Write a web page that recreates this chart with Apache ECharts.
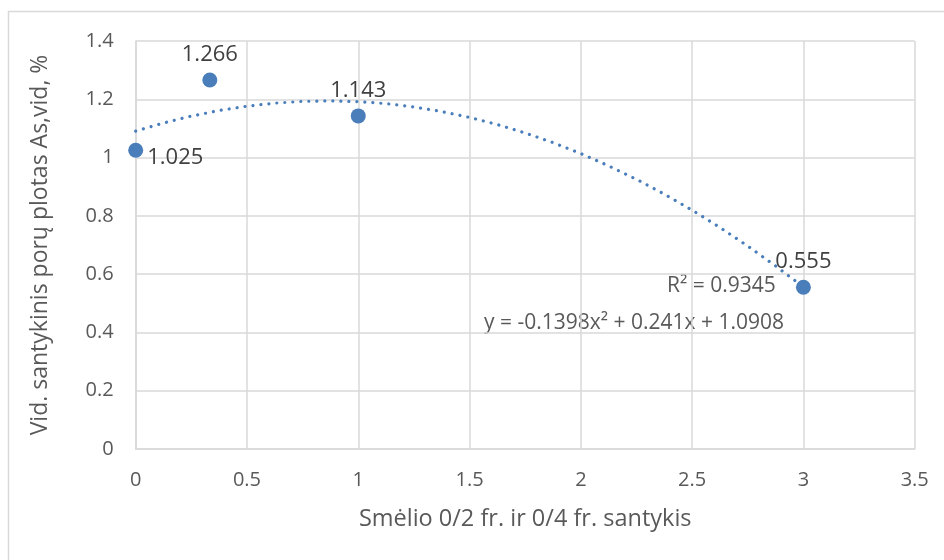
<!DOCTYPE html>
<html><head><meta charset="utf-8">
<script src="https://cdn.jsdelivr.net/npm/echarts@6/dist/echarts.min.js"></script>
<style>html,body{margin:0;padding:0;background:#fff}#c{width:944px;height:560px}</style>
</head><body><div id="c"></div>
<script>
const pointX = [0, 0.333, 1, 3];
const pointY = [1.025, 1.266, 1.143, 0.555];
const trendX = [0, 0.125, 0.25, 0.375, 0.5, 0.625, 0.75, 0.875, 1, 1.125, 1.25, 1.375, 1.5, 1.625, 1.75, 1.875, 2, 2.125, 2.25, 2.375, 2.5, 2.625, 2.75, 2.875, 3];
const trendY = [1.0908, 1.1187, 1.1423, 1.1615, 1.1763, 1.1868, 1.1929, 1.1946, 1.1920, 1.1850, 1.1736, 1.1579, 1.1378, 1.1133, 1.0844, 1.0512, 1.0136, 0.9716, 0.9253, 0.8746, 0.8196, 0.7601, 0.6963, 0.6281, 0.5556];
const xTitle = 'Smėlio 0/2 fr. ir 0/4 fr. santykis';
const yTitle = 'Vid. santykinis porų plotas As,vid, %';
const eqText = 'y = -0.1398x² + 0.241x + 1.0908';
const r2Text = 'R² = 0.9345';
const labelPos = ['right', 'top', 'top', 'top'];

const FONT = 'Open Sans';
const TXT = '#595959';
const BLUE = '#4a7ebb';
const chart = echarts.init(document.getElementById('c'));
chart.setOption({
  animation: false,
  textStyle: {fontFamily: FONT},
  grid: {left: 135.7, right: 29.3, top: 41, bottom: 111},
  graphic: [
    {type: 'rect', shape: {x: 8.5, y: 11.5, width: 1000, height: 1000}, style: {fill: 'none', stroke: '#d9d9d9', lineWidth: 1.5}, z: -1},
    {type: 'text', left: 484, top: 313, style: {text: eqText, fontSize: 21, fontFamily: FONT, fill: TXT}},
    {type: 'text', left: 667, top: 276, style: {text: r2Text, fontSize: 21, fontFamily: FONT, fill: TXT}}
  ],
  xAxis: {
    type: 'value', min: 0, max: 3.5, interval: 0.5,
    name: xTitle, nameLocation: 'middle', nameGap: 58,
    nameTextStyle: {color: TXT, fontSize: 23.5, fontFamily: FONT},
    axisLine: {show: true, lineStyle: {color: '#d9d9d9', width: 1.5}},
    axisTick: {show: false},
    axisLabel: {color: TXT, fontSize: 20, margin: 21, fontFamily: FONT},
    splitLine: {show: true, lineStyle: {color: '#d9d9d9', width: 1.5}}
  },
  yAxis: {
    type: 'value', min: 0, max: 1.4, interval: 0.2,
    name: yTitle, nameLocation: 'middle', nameGap: 84,
    nameTextStyle: {color: TXT, fontSize: 23, fontFamily: FONT},
    axisLine: {show: true, lineStyle: {color: '#d9d9d9', width: 1.5}},
    axisTick: {show: false},
    axisLabel: {color: TXT, fontSize: 20, margin: 22, fontFamily: FONT},
    splitLine: {show: true, lineStyle: {color: '#d9d9d9', width: 1.5}}
  },
  series: [
    {
      type: 'line', smooth: false, symbol: 'none',
      data: trendX.map((x, i) => [x, trendY[i]]),
      lineStyle: {color: BLUE, width: 3.2, type: [0.01, 8], cap: 'round'},
      z: 2
    },
    {
      type: 'scatter', symbolSize: 15,
      itemStyle: {color: BLUE, opacity: 1},
      data: pointX.map((x, i) => ({
        value: [x, pointY[i]],
        label: {position: labelPos[i], distance: labelPos[i] === 'right' ? 4 : 9, offset: labelPos[i] === 'right' ? [0, 7] : [0, 2]}
      })),
      label: {show: true, color: '#404040', fontSize: 22, fontFamily: FONT, formatter: p => p.value[1].toFixed(3)},
      z: 3
    }
  ]
});
</script></body></html>
